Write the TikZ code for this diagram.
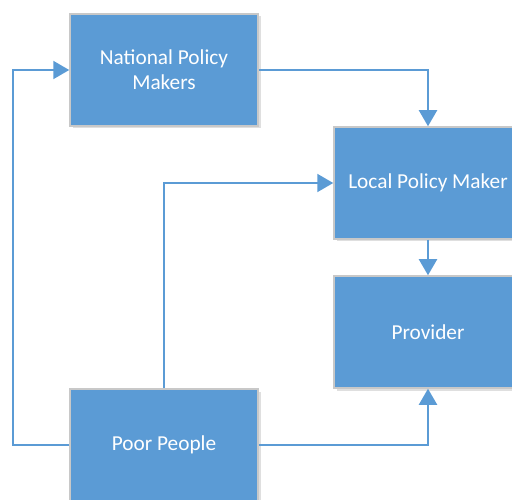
\documentclass[tikz,border=0pt]{standalone}
\usepackage{fontspec}
\setmainfont{Carlito}
\usepackage{xcolor}
\usetikzlibrary{arrows.meta,shadows}
\definecolor{boxblue}{HTML}{5B9BD5}
\definecolor{boxgray}{HTML}{C8C8C8}

\begin{document}
\begin{tikzpicture}[x=1pt,y=-1pt,
	box/.style={draw=boxgray,line width=1.5pt,fill=boxblue,text=white,
		minimum width=188pt,minimum height=112pt,inner sep=0pt,align=center,
		font=\fontsize{21.3}{25}\selectfont,
		drop shadow={opacity=0.25,shadow xshift=2.5pt,shadow yshift=-2.5pt}},
	link/.style={draw=boxblue,line width=2pt,-{Triangle[width=18pt,length=16pt]}}]
	\useasboundingbox (0,0) rectangle (512,500);
	
	\node[box] (npm) at (164,70) {National Policy\\Makers};
	\node[box] (lpm) at (428,183) {Local Policy Maker};
	\node[box] (prov) at (428,332) {Provider};
	\node[box] (poor) at (164,445) {Poor People};
	
	\coordinate (lft) at (13,445);
	
	\draw[link] (poor.west) -- (lft) |- (npm.west);
	\draw[link] (npm.east) -| (lpm.north);
	\draw[link] (poor.north) |- (lpm.west);
	\draw[link] (lpm.south) -- (prov.north);
	\draw[link] (poor.east) -| (prov.south);
\end{tikzpicture}
\end{document}
